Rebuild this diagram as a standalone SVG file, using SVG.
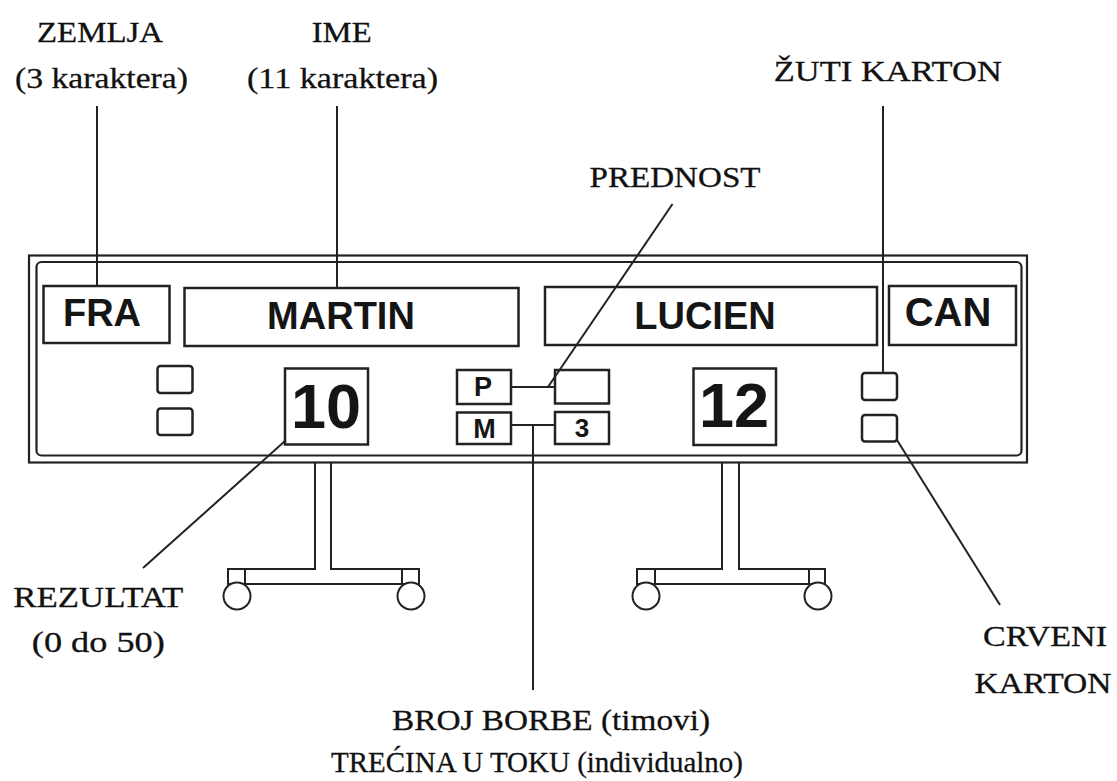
<svg xmlns="http://www.w3.org/2000/svg" width="1117" height="781" viewBox="0 0 1117 781">
<style>
.lbl{font-family:"Liberation Serif","Times New Roman",serif;font-size:30px;fill:#111;stroke:#111;stroke-width:0.3}
.bx{fill:#fff;stroke:#222;stroke-width:2.5}
.bt{font-family:"Liberation Sans",Arial,sans-serif;font-weight:bold;fill:#151515;text-anchor:middle}
.ln{stroke:#222;stroke-width:2;fill:none}
.st{fill:#fff;stroke:#222;stroke-width:2}
</style>
<rect width="1117" height="781" fill="#fff"/>
<g id="stands">
  <g id="stand-left">
    <rect class="st" x="315" y="462" width="16" height="122"/>
    <rect class="st" x="228" y="569" width="191" height="15"/>
    <line class="ln" x1="245" y1="569" x2="245" y2="584"/>
    <line class="ln" x1="402" y1="569" x2="402" y2="584"/>
    <line x1="316" y1="569" x2="330" y2="569" stroke="#fff" stroke-width="2"/>
    <circle class="st" cx="237" cy="596" r="13.5"/>
    <circle class="st" cx="411" cy="596" r="13.5"/>
  </g>
  <g id="stand-right">
    <rect class="st" x="722" y="462" width="17" height="122"/>
    <rect class="st" x="637" y="569" width="188" height="15"/>
    <line class="ln" x1="655" y1="569" x2="655" y2="584"/>
    <line class="ln" x1="809" y1="569" x2="809" y2="584"/>
    <line x1="723" y1="569" x2="738" y2="569" stroke="#fff" stroke-width="2"/>
    <circle class="st" cx="646" cy="596" r="13.5"/>
    <circle class="st" cx="818" cy="596" r="13.5"/>
  </g>
</g>
<g id="board">
  <rect x="29" y="255.5" width="998" height="207" fill="#fff" stroke="#222" stroke-width="2.2"/>
  <rect x="36.5" y="262" width="985" height="193.5" rx="5" fill="none" stroke="#222" stroke-width="2.2"/>
</g>
<g id="node-fra"><rect class="bx" x="43.5" y="286" width="126" height="57"/><text class="bt" x="102" y="326" font-size="38">FRA</text></g>
<g id="node-martin"><rect class="bx" x="184.5" y="288" width="334" height="58"/><text class="bt" x="341" y="329" font-size="38">MARTIN</text></g>
<g id="node-lucien"><rect class="bx" x="545" y="287" width="332" height="58"/><text class="bt" x="705" y="329" font-size="38">LUCIEN</text></g>
<g id="node-can"><rect class="bx" x="889" y="286" width="127" height="59"/><text class="bt" x="948" y="326" font-size="40">CAN</text></g>
<g id="node-cards-left">
  <rect class="bx" x="157.5" y="366" width="35" height="27" rx="3"/>
  <rect class="bx" x="157.5" y="408.5" width="35" height="26.5" rx="3"/>
</g>
<g id="node-score-left"><rect class="bx" x="285" y="368.5" width="83" height="76"/><text class="bt" x="326" y="428" font-size="63">10</text></g>
<g id="node-p"><rect class="bx" x="457" y="370" width="54" height="34"/><text class="bt" x="483" y="396" font-size="27">P</text></g>
<g id="node-m"><rect class="bx" x="457" y="412.5" width="54" height="31.5"/><text class="bt" x="484.5" y="437.5" font-size="27">M</text></g>
<g id="node-prednost"><rect class="bx" x="555" y="370" width="54" height="33.5"/></g>
<g id="node-bout"><rect class="bx" x="555" y="412" width="54" height="32"/><text class="bt" x="582" y="437" font-size="26">3</text></g>
<g id="node-score-right"><rect class="bx" x="693.5" y="368.5" width="82.5" height="76.5"/><text class="bt" x="734" y="427" font-size="63">12</text></g>
<g id="node-cards-right">
  <rect class="bx" x="862" y="373" width="35" height="27" rx="3"/>
  <rect class="bx" x="862" y="415" width="35" height="26.5" rx="3"/>
</g>
<g id="connectors">
  <line class="ln" x1="97" y1="106" x2="97" y2="286"/>
  <line class="ln" x1="337" y1="106" x2="337" y2="288"/>
  <line class="ln" x1="672.5" y1="204" x2="548" y2="387"/>
  <line class="ln" x1="511" y1="387" x2="555" y2="387"/>
  <line class="ln" x1="511" y1="425" x2="555" y2="425"/>
  <line class="ln" x1="533" y1="425" x2="533" y2="690"/>
  <line class="ln" x1="883" y1="106" x2="883" y2="373"/>
  <line class="ln" x1="897" y1="440" x2="1000" y2="605"/>
  <line class="ln" x1="285" y1="441" x2="143" y2="568"/>
</g>
<g id="labels">
  <text class="lbl" x="100" y="42" text-anchor="middle" textLength="126" lengthAdjust="spacingAndGlyphs">ZEMLJA</text>
  <text class="lbl" x="101.5" y="88" text-anchor="middle" textLength="173" lengthAdjust="spacingAndGlyphs">(3 karaktera)</text>
  <text class="lbl" x="341.7" y="42" text-anchor="middle" textLength="60" lengthAdjust="spacingAndGlyphs">IME</text>
  <text class="lbl" x="342.5" y="88" text-anchor="middle" textLength="191" lengthAdjust="spacingAndGlyphs">(11 karaktera)</text>
  <text class="lbl" x="887.8" y="81" text-anchor="middle" textLength="228" lengthAdjust="spacingAndGlyphs">ŽUTI KARTON</text>
  <text class="lbl" x="675" y="187" text-anchor="middle" textLength="171" lengthAdjust="spacingAndGlyphs">PREDNOST</text>
  <text class="lbl" x="98.3" y="607" text-anchor="middle" textLength="170" lengthAdjust="spacingAndGlyphs">REZULTAT</text>
  <text class="lbl" x="98.3" y="652" text-anchor="middle" textLength="133" lengthAdjust="spacingAndGlyphs">(0 do 50)</text>
  <text class="lbl" x="551" y="730" text-anchor="middle" textLength="318" lengthAdjust="spacingAndGlyphs">BROJ BORBE (timovi)</text>
  <text class="lbl" x="537" y="772" text-anchor="middle" textLength="412" lengthAdjust="spacingAndGlyphs">TREĆINA U TOKU (individualno)</text>
  <text class="lbl" x="1045" y="646" text-anchor="middle" textLength="124" lengthAdjust="spacingAndGlyphs">CRVENI</text>
  <text class="lbl" x="1043" y="693" text-anchor="middle" textLength="137" lengthAdjust="spacingAndGlyphs">KARTON</text>
</g>
</svg>
